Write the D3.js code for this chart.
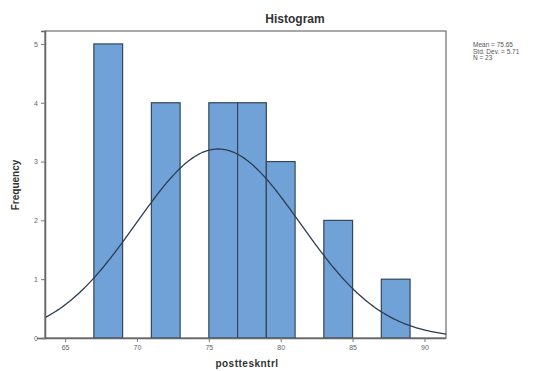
<!DOCTYPE html>
<html>
<head>
<meta charset="utf-8">
<script src="https://cdn.jsdelivr.net/npm/d3@7"></script>
<style>
  body { margin: 0; background: #fff; }
  svg text { font-family: "Liberation Sans", Arial, sans-serif; }
</style>
</head>
<body>
<div id="chart"></div>
<script>
// histogram bins (lower edge, upper edge) and counts
const binStarts = [67, 71, 75, 77, 79, 83, 87];
const binWidth = 2;
const counts = [5, 4, 4, 4, 3, 2, 1];
const xTicks = [65, 70, 75, 80, 85, 90];
const yTicks = [0, 1, 2, 3, 4, 5];
const statLines = ['Mean = 75.65', 'Std. Dev. = 5.71', 'N = 23'];
const mean = 75.65, sd = 5.71, n = 23;

const width = 551, height = 371;
const margin = { top: 31, right: 105, bottom: 33, left: 45 };

const svg = d3.select('#chart')
  .append('svg')
  .attr('width', width)
  .attr('height', height);

const x = d3.scaleLinear()
  .domain([63.6, 91.5])
  .range([margin.left, width - margin.right]);

const y = d3.scaleLinear()
  .domain([0, 5.22])
  .range([height - margin.bottom, margin.top]);

// frame
svg.append('rect')
  .attr('x', margin.left)
  .attr('y', margin.top)
  .attr('width', x.range()[1] - x.range()[0])
  .attr('height', y.range()[0] - y.range()[1])
  .attr('fill', '#fff')
  .attr('stroke', '#8a8a8a')
  .attr('stroke-width', 1.5);

// bars
svg.selectAll('rect.bar')
  .data(binStarts)
  .join('rect')
  .attr('class', 'bar')
  .attr('x', d => x(d))
  .attr('width', d => x(d + binWidth) - x(d))
  .attr('y', (d, i) => y(counts[i]))
  .attr('height', (d, i) => y(0) - y(counts[i]))
  .attr('fill', '#70a2d7')
  .attr('stroke', '#34465a')
  .attr('stroke-width', 1.2);

// normal curve
const curve = d3.range(x.domain()[0], x.domain()[1] + 0.01, 0.1).map(v => {
  const z = (v - mean) / sd;
  return [v, n * binWidth * Math.exp(-z * z / 2) / (sd * Math.sqrt(2 * Math.PI))];
});
svg.append('path')
  .datum(curve)
  .attr('fill', 'none')
  .attr('stroke', '#2c3d50')
  .attr('stroke-width', 1.3)
  .attr('d', d3.line().x(d => x(d[0])).y(d => y(d[1])));

// axes
const xAxis = svg.append('g')
  .attr('transform', `translate(0,${y(0)})`)
  .call(d3.axisBottom(x).tickValues(xTicks).tickSize(4).tickPadding(3).tickFormat(d3.format('d')));
xAxis.select('.domain').attr('stroke', '#666').attr('stroke-width', 1.5)
  .attr('d', `M${margin.left - 8},0.5H${x.range()[1]}`);

const yAxis = svg.append('g')
  .attr('transform', `translate(${margin.left},0)`)
  .call(d3.axisLeft(y).tickValues(yTicks).tickSize(4).tickPadding(3).tickFormat(d3.format('d')));
yAxis.select('.domain').attr('stroke', '#666').attr('stroke-width', 1.5);

svg.selectAll('.tick line').attr('stroke', '#777');
svg.selectAll('.tick text').attr('fill', '#666').style('font-size', '7px');

// title and labels
svg.append('text')
  .attr('x', 295).attr('y', 23)
  .attr('text-anchor', 'middle')
  .style('font-size', '12px').style('font-weight', 'bold')
  .attr('fill', '#333')
  .text('Histogram');

svg.append('text')
  .attr('transform', 'translate(19,185) rotate(-90)')
  .attr('text-anchor', 'middle')
  .style('font-size', '10px').style('font-weight', 'bold')
  .attr('fill', '#333')
  .text('Frequency');

svg.append('text')
  .attr('x', 247).attr('y', 367)
  .attr('text-anchor', 'middle')
  .style('font-size', '10px').style('font-weight', 'bold')
  .style('letter-spacing', '0.5px')
  .attr('fill', '#333')
  .text('postteskntrl');

svg.selectAll('text.stat')
  .data(statLines)
  .join('text')
  .attr('class', 'stat')
  .attr('x', 473)
  .attr('y', (d, i) => 47 + i * 6.5)
  .style('font-size', '6.5px')
  .attr('fill', '#555')
  .text(d => d);
</script>
</body>
</html>
